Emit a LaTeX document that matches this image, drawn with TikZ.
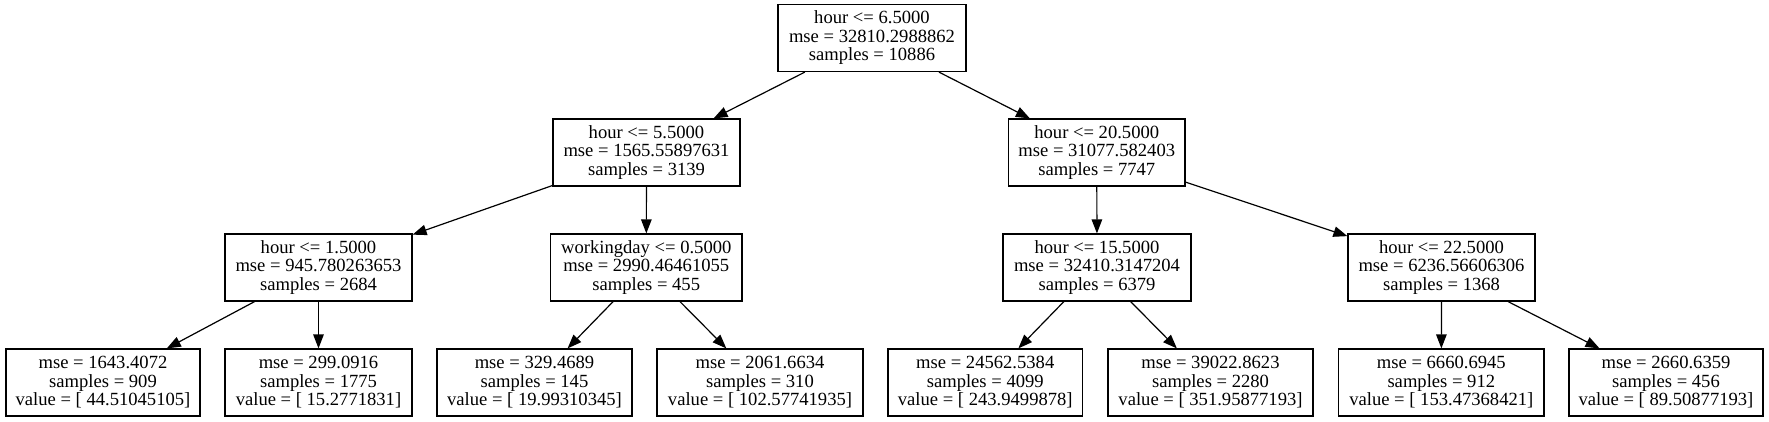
\documentclass[tikz,border=0pt]{standalone}
\usepackage{fontspec}
\setmainfont{Liberation Serif}
\usetikzlibrary{arrows.meta}
\begin{document}
\begin{tikzpicture}[x=1pt,y=-1pt,
  tbox/.style={draw=black, line width=1.2pt, rectangle, inner sep=0pt,
    minimum height=67pt, minimum width=#1, align=center,
    font=\fontsize{18.6}{18.5}\selectfont},
  edge/.style={draw=black, line width=1.2pt, -{Triangle[length=14pt 0, width=10.5pt 0]}}]
\useasboundingbox[fill=white] (0,0) rectangle (1769,421);
\node[tbox=188pt] (root) at (872,38) {hour <= 6.5000\\mse = 32810.2988862\\samples = 10886};
\node[tbox=187pt] (l1a) at (646.5,152.5) {hour <= 5.5000\\mse = 1565.55897631\\samples = 3139};
\node[tbox=176.5pt] (l1b) at (1096.75,152.5) {hour <= 20.5000\\mse = 31077.582403\\samples = 7747};
\node[tbox=187pt] (l2a) at (318.5,267.5) {hour <= 1.5000\\mse = 945.780263653\\samples = 2684};
\node[tbox=191.5pt] (l2b) at (646.25,267.5) {workingday <= 0.5000\\mse = 2990.46461055\\samples = 455};
\node[tbox=188pt] (l2c) at (1097,267.5) {hour <= 15.5000\\mse = 32410.3147204\\samples = 6379};
\node[tbox=187pt] (l2d) at (1441.5,267.5) {hour <= 22.5000\\mse = 6236.56606306\\samples = 1368};
\node[tbox=194pt] (f1) at (103,382.5) {mse = 1643.4072\\samples = 909\\value = [ 44.51045105]};
\node[tbox=187pt] (f2) at (318.5,382.5) {mse = 299.0916\\samples = 1775\\value = [ 15.2771831]};
\node[tbox=195pt] (f3) at (534.5,382.5) {mse = 329.4689\\samples = 145\\value = [ 19.99310345]};
\node[tbox=206pt] (f4) at (760,382.5) {mse = 2061.6634\\samples = 310\\value = [ 102.57741935]};
\node[tbox=194.5pt] (f5) at (985.25,382.5) {mse = 24562.5384\\samples = 4099\\value = [ 243.9499878]};
\node[tbox=205pt] (f6) at (1210.5,382.5) {mse = 39022.8623\\samples = 2280\\value = [ 351.95877193]};
\node[tbox=205.4pt] (f7) at (1441.3,382.5) {mse = 6660.6945\\samples = 912\\value = [ 153.47368421]};
\node[tbox=194pt] (f8) at (1666,382.5) {mse = 2660.6359\\samples = 456\\value = [ 89.50877193]};
\draw[edge] (root) -- (l1a);
\draw[edge] (root) -- (l1b);
\draw[edge] (l1a) -- (l2a);
\draw[edge] (l1a) -- (l2b);
\draw[edge] (l1b) -- (l2c);
\draw[edge] (l1b) -- (l2d);
\draw[edge] (l2a) -- (f1);
\draw[edge] (l2a) -- (f2);
\draw[edge] (l2b) -- (f3);
\draw[edge] (l2b) -- (f4);
\draw[edge] (l2c) -- (f5);
\draw[edge] (l2c) -- (f6);
\draw[edge] (l2d) -- (f7);
\draw[edge] (l2d) -- (f8);
\end{tikzpicture}
\end{document}
